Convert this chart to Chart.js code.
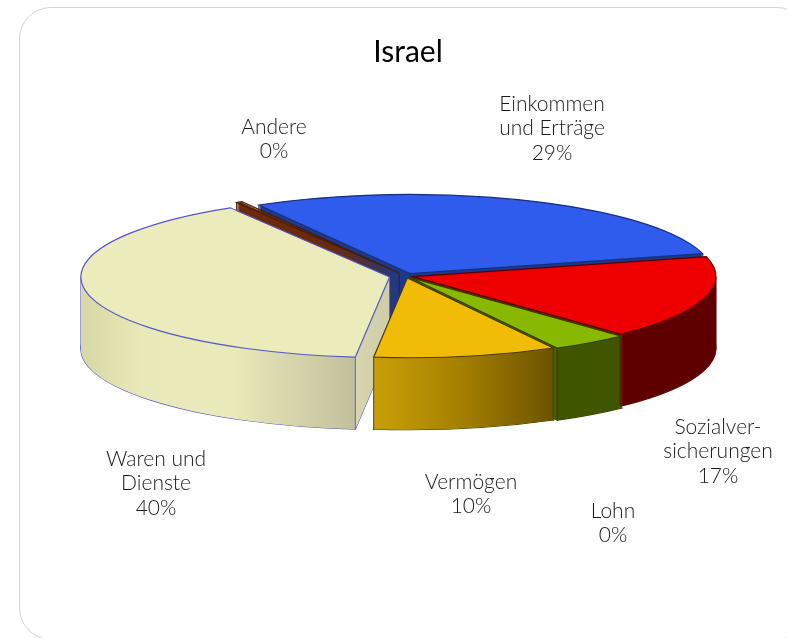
<!DOCTYPE html>
<html>
<head>
<meta charset="utf-8">
<title>Israel</title>
<style>
  html, body { margin: 0; padding: 0; background: #fff; overflow: hidden; }
  #wrap { position: relative; width: 787px; height: 638px; overflow: hidden; }
  #frame { position: absolute; left: 19px; top: 7px; width: 790px; height: 633px; border: 1.5px solid #d4d4d4; border-radius: 32px; box-sizing: border-box; }
  canvas { position: absolute; left: 0; top: 0; }
</style>
<script src="https://cdn.jsdelivr.net/npm/chart.js@4"></script>
</head>
<body>
<div id="wrap">
  <div id="frame"></div>
  <canvas id="pie" width="787" height="638"></canvas>
</div>
<script>
var titleText = 'Israel';
var categories = ['Einkommen und Erträge', 'Sozialversicherungen', 'Lohn', 'Vermögen', 'Waren und Dienste', 'Andere'];
var labelLines = [['Einkommen', 'und Erträge'], ['Sozialver-', 'sicherungen'], ['Lohn'], ['Vermögen'], ['Waren und', 'Dienste'], ['Andere']];
var percentLabels = ['29%', '17%', '0%', '10%', '40%', '0%'];
var sliceValues = [29.3, 17, 4.1, 9.7, 39.6, 0.3];

var topColors = ['#2f5ced', '#ee0000', '#88b800', '#f0bc08', '#ecebbb', '#7a2e0a'];
var edgeColors = ['#16307e', '#5a0000', '#334400', '#4e3c00', '#5558c8', '#4a1a04'];
var sliceOffsets = [28, 20, 20, 20, 46, 36];
// wall shading, [screen x, colour]
var wallStops = [
  [[380, '#1b3a8c'], [700, '#1b3a8c']],
  [[610, '#800000'], [622, '#800000'], [623, '#5e0000'], [720, '#5e0000']],
  [[550, '#4a6000'], [556, '#4a6000'], [557, '#3f5500'], [620, '#3f5500']],
  [[373, '#c9a008'], [460, '#a58000'], [551, '#6e5400']],
  [[83, '#d8d7a6'], [140, '#e9e8b8'], [230, '#ebeaba'], [354, '#c2c09c'], [356, '#d6d5ae'], [387, '#cfcea8']],
  [[240, '#6b2a0a'], [395, '#6b2a0a']]
];
var labelSpots = [[552, 104], [718, 427], [613, 511], [471, 482], [156, 459], [274, 127]];
var labelLineHeight = 24.5;

var pieCentre = { x: 406, y: 276 };
var pieRadiusX = 302;
var pieRadiusY = 79;
var pieDepth = 72;

function sliceShape(arc) {
  var off = (arc.options.offset || 0) / 4;
  var span = arc.endAngle - arc.startAngle;
  var mid = (arc.startAngle + arc.endAngle) / 2;
  var fix = 1 - Math.sin(Math.min(Math.PI, span));
  return {
    dx: Math.cos(mid) * off,
    dy: Math.sin(mid) * off,
    r: arc.outerRadius + off * fix
  };
}

function pieTransform(ctx, arc, drop) {
  ctx.translate(pieCentre.x, pieCentre.y + drop);
  ctx.scale(pieRadiusX / arc.outerRadius, pieRadiusY / arc.outerRadius);
  ctx.translate(-arc.x, -arc.y);
}

function slicePath(ctx, arc, drop) {
  var s = sliceShape(arc);
  ctx.save();
  pieTransform(ctx, arc, drop);
  ctx.beginPath();
  ctx.moveTo(arc.x + s.dx, arc.y + s.dy);
  ctx.arc(arc.x + s.dx, arc.y + s.dy, s.r, arc.startAngle, arc.endAngle);
  ctx.closePath();
  ctx.restore();
}

function edgePoints(arc, drop) {
  var s = sliceShape(arc);
  var sx = pieRadiusX / arc.outerRadius, sy = pieRadiusY / arc.outerRadius;
  var angles = [arc.startAngle, arc.endAngle];
  [0, Math.PI, Math.PI * 2].forEach(function (a) {
    if (a > arc.startAngle && a < arc.endAngle) angles.push(a);
  });
  var pts = angles.map(function (a) {
    return {
      x: pieCentre.x + (s.dx + Math.cos(a) * s.r) * sx,
      y: pieCentre.y + drop + (s.dy + Math.sin(a) * s.r) * sy
    };
  });
  pts.push({ x: pieCentre.x + s.dx * sx, y: pieCentre.y + drop + s.dy * sy });
  return pts;
}

var pie3d = {
  id: 'pie3d',
  beforeDatasetsDraw: function (chart) {
    var ctx = chart.ctx;
    var arcs = chart.getDatasetMeta(0).data;
    var fills = wallStops.map(function (stops) {
      var x0 = stops[0][0], x1 = stops[stops.length - 1][0];
      var g = ctx.createLinearGradient(x0, 0, x1, 0);
      stops.forEach(function (st) { g.addColorStop((st[0] - x0) / (x1 - x0), st[1]); });
      return g;
    });

    // outline of the bottom face, the layers above hide all but the rim
    arcs.forEach(function (arc, i) {
      slicePath(ctx, arc, pieDepth);
      ctx.strokeStyle = edgeColors[i];
      ctx.lineWidth = 1.2;
      ctx.stroke();
    });
    // stack the slices from the bottom up to get the walls
    for (var k = pieDepth; k >= 1; k--) {
      arcs.forEach(function (arc, i) {
        slicePath(ctx, arc, k);
        ctx.fillStyle = fills[i];
        ctx.fill();
        ctx.fillStyle = edgeColors[i];
        edgePoints(arc, k).forEach(function (p) {
          ctx.fillRect(p.x - 0.6, p.y - 0.5, 1.2, 1);
        });
      });
    }
    ctx.save();
    pieTransform(ctx, arcs[0], 0);
  },
  afterDatasetsDraw: function (chart) {
    var ctx = chart.ctx;
    ctx.restore();
    var arcs = chart.getDatasetMeta(0).data;
    arcs.forEach(function (arc, i) {
      slicePath(ctx, arc, 0);
      ctx.strokeStyle = edgeColors[i];
      ctx.lineWidth = 1.2;
      ctx.stroke();
    });

    ctx.save();
    ctx.fillStyle = '#1a1a1a';
    ctx.font = '300 21px Lato';
    ctx.textAlign = 'center';
    ctx.textBaseline = 'middle';
    labelLines.forEach(function (lines, i) {
      var all = lines.concat([percentLabels[i]]);
      all.forEach(function (line, n) {
        ctx.fillText(line, labelSpots[i][0], labelSpots[i][1] + n * labelLineHeight);
      });
    });
    ctx.restore();
  }
};

new Chart(document.getElementById('pie'), {
  type: 'pie',
  data: {
    labels: categories,
    datasets: [{
      data: sliceValues,
      backgroundColor: topColors,
      borderWidth: 0,
      offset: sliceOffsets,
      clip: false
    }]
  },
  options: {
    responsive: false,
    animation: false,
    rotation: -30,
    layout: { padding: { left: 29, top: 34, bottom: 100 } },
    plugins: {
      legend: { display: false },
      tooltip: { enabled: false },
      title: {
        display: true,
        text: titleText,
        color: '#000',
        font: { family: 'Lato', size: 30, weight: 'normal' },
        padding: { top: 0, bottom: 10 }
      }
    }
  },
  plugins: [pie3d]
});
</script>
</body>
</html>
